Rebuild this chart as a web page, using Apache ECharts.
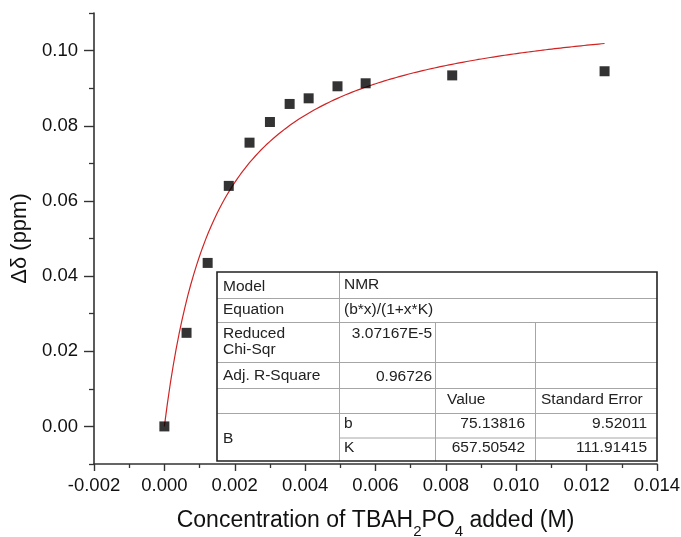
<!DOCTYPE html>
<html>
<head>
<meta charset="utf-8">
<script src="https://cdn.jsdelivr.net/npm/echarts@6/dist/echarts.min.js"></script>
<style>
  html, body { margin: 0; padding: 0; background: #fff; }
  #chart { width: 681px; height: 537px; }
</style>
</head>
<body>
<div id="chart"></div>
<script>
// Titration data: chemical-shift change vs. added TBAH2PO4
const concentration = [0.0000, 0.00063, 0.00123, 0.00183, 0.00242, 0.00300, 0.00356, 0.00410, 0.00492, 0.00572, 0.00818, 0.01251];
const deltaShift    = [0.0000, 0.0249, 0.0435, 0.0640, 0.0755, 0.0810, 0.0858, 0.0873, 0.0905, 0.0913, 0.0934, 0.0945];

// Axis ticks
const yMajorTicks = [0.00, 0.02, 0.04, 0.06, 0.08, 0.10];
const yMinorTicks = [-0.01, 0.01, 0.03, 0.05, 0.07, 0.09, 0.11];

// Fit report (model b*x/(1+x*K))
const fitModel = 'NMR';
const fitEquation = '(b*x)/(1+x*K)';
const fitChiSqr = '3.07167E-5';
const fitAdjR2 = '0.96726';
const paramNames = ['b', 'K'];
const paramValues = [75.13816, 657.50542];
const paramErrors = [9.52011, 111.91415];

// Fitted curve from the reported parameters, over the measured range
const fitB = paramValues[0], fitK = paramValues[1];
const fitCurve = [];
const xEnd = concentration[concentration.length - 1];
for (let i = 0; i <= 150; i++) {
  const x = xEnd * i / 150;
  fitCurve.push([x, fitB * x / (1 + x * fitK)]);
}

const FONT = "'Liberation Sans', Arial, sans-serif";
const AXIS_COLOR = '#333';

// ---- report table drawn as graphic elements ----
const T = { left: 217, top: 272, right: 657, bottom: 461, c1: 339, c2: 435, c3: 535,
            rows: [298, 322, 362, 388, 413, 437.5] };
const tableFont = 15.5;
const txt = (s, x, y, align) => ({
  type: 'text', x: x, y: y, z: 101,
  style: { text: s, fill: '#222', fontSize: tableFont, fontFamily: FONT,
           align: align || 'left', verticalAlign: 'middle' }
});
const gl = (x1, y1, x2, y2) => ({
  type: 'line', z: 100, shape: { x1: x1, y1: y1, x2: x2, y2: y2 },
  style: { stroke: '#a6a6a6', lineWidth: 1 }
});
const tableGraphics = [
  { type: 'rect', z: 99, shape: { x: T.left, y: T.top, width: T.right - T.left, height: T.bottom - T.top },
    style: { fill: '#fff', stroke: 'none' } },
  gl(T.left, T.rows[0] + 0.5, T.right, T.rows[0] + 0.5),
  gl(T.left, T.rows[1] + 0.5, T.right, T.rows[1] + 0.5),
  gl(T.left, T.rows[2] + 0.5, T.right, T.rows[2] + 0.5),
  gl(T.left, T.rows[3] + 0.5, T.right, T.rows[3] + 0.5),
  gl(T.left, T.rows[4] + 0.5, T.right, T.rows[4] + 0.5),
  gl(T.c1, T.rows[5] + 0.5, T.right, T.rows[5] + 0.5),
  gl(T.c1 + 0.5, T.top, T.c1 + 0.5, T.bottom),
  gl(T.c2 + 0.5, T.rows[1], T.c2 + 0.5, T.bottom),
  gl(T.c3 + 0.5, T.rows[1], T.c3 + 0.5, T.bottom),
  { type: 'rect', z: 102, shape: { x: T.left, y: T.top, width: T.right - T.left, height: T.bottom - T.top },
    style: { fill: 'none', stroke: '#222', lineWidth: 1.6 } },
  txt('Model', 223, 287), txt(fitModel, 344, 284.5),
  txt('Equation', 223, 310), txt(fitEquation, 344, 309.5),
  txt('Reduced', 223, 333.5), txt('Chi-Sqr', 223, 349.5), txt(fitChiSqr, 432, 334, 'right'),
  txt('Adj. R-Square', 223, 376), txt(fitAdjR2, 432, 376.5, 'right'),
  txt('Value', 447, 400), txt('Standard Error', 541, 400),
  txt('B', 223, 438.5),
  txt(paramNames[0], 344, 424), txt(paramValues[0].toFixed(5), 525, 424, 'right'),
  txt(paramErrors[0].toFixed(5), 647, 424, 'right'),
  txt(paramNames[1], 344, 447.5), txt(paramValues[1].toFixed(5), 525, 447.5, 'right'),
  txt(paramErrors[1].toFixed(5), 647, 447.5, 'right')
];

const chart = echarts.init(document.getElementById('chart'), null, { renderer: 'canvas' });
chart.setOption({
  backgroundColor: '#fff',
  animation: false,
  textStyle: { fontFamily: FONT },
  grid: { left: 94, right: 24, top: 13, bottom: 73, containLabel: false, outerBoundsMode: 'none' },
  xAxis: {
    type: 'value', min: -0.002, max: 0.014, interval: 0.002,
    name: '{m|Concentration of TBAH}{s|2}{m|PO}{s|4}{m| added (M)}',
    nameLocation: 'middle', nameGap: 45,
    nameTextStyle: {
      rich: {
        m: { fontSize: 23, lineHeight: 26, verticalAlign: 'top', color: '#111', fontFamily: FONT },
        s: { fontSize: 15, lineHeight: 14, padding: [15, 0, 0, 0], verticalAlign: 'top', color: '#111', fontFamily: FONT }
      }
    },
    axisLine: { onZero: false, lineStyle: { color: AXIS_COLOR, width: 1.6 } },
    axisTick: { inside: false, length: 7, lineStyle: { color: AXIS_COLOR, width: 1.4 } },
    minorTick: { show: true, splitNumber: 2, length: 4, lineStyle: { color: AXIS_COLOR, width: 1.3 } },
    axisLabel: { margin: 12, fontSize: 18.5, color: '#111', fontFamily: FONT,
                 formatter: v => v.toFixed(3) },
    splitLine: { show: false }
  },
  yAxis: [
    {
      type: 'value', min: -0.01, max: 0.11, interval: 0.01, position: 'left',
      name: 'Δδ (ppm)', nameLocation: 'middle', nameGap: 53,
      nameTextStyle: { fontSize: 22, color: '#111', fontFamily: FONT },
      axisLine: { onZero: false, lineStyle: { color: AXIS_COLOR, width: 1.6 } },
      axisTick: { inside: false, length: 10, customValues: yMajorTicks, lineStyle: { color: AXIS_COLOR, width: 1.4 } },
      axisLabel: { margin: 16, fontSize: 18.5, color: '#111', fontFamily: FONT,
                   customValues: yMajorTicks, formatter: v => v.toFixed(2) },
      splitLine: { show: false }
    },
    {
      type: 'value', min: -0.01, max: 0.11, interval: 0.01, position: 'left', offset: 0,
      axisLine: { show: false, onZero: false },
      axisTick: { inside: false, length: 5, customValues: yMinorTicks, lineStyle: { color: AXIS_COLOR, width: 1.3 } },
      axisLabel: { show: false },
      splitLine: { show: false }
    }
  ],
  series: [
    {
      type: 'line', data: fitCurve, showSymbol: false, symbol: 'none',
      lineStyle: { color: '#d02424', width: 1.2 }, z: 2, silent: true
    },
    {
      type: 'scatter', data: concentration.map((x, i) => [x, deltaShift[i]]),
      symbol: 'rect', symbolSize: 10, itemStyle: { color: '#000' }, z: 3
    }
  ],
  graphic: tableGraphics
});
</script>
</body>
</html>
